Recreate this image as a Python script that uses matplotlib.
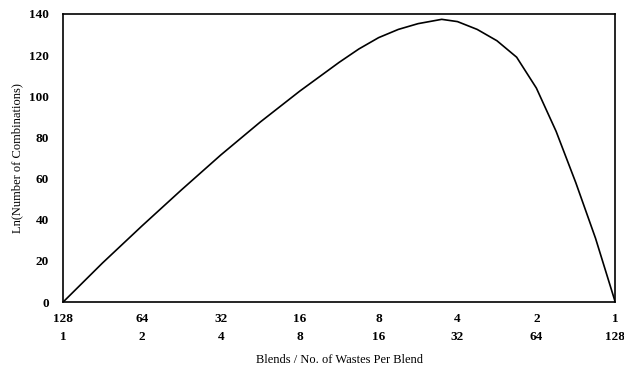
import matplotlib
matplotlib.use("Agg")
import matplotlib.pyplot as plt

# positions along the x axis (tick index)
pos = [0, 0.5, 1, 1.5, 2, 2.5, 3, 3.5, 3.75, 4, 4.25, 4.5, 4.8, 5, 5.25, 5.5, 5.75, 6, 6.25, 6.5, 6.75, 7]
ln_comb = [0, 19, 37, 54.5, 71.5, 87.5, 102.5, 116.5, 123, 128.5, 132.5, 135.3, 137.4, 136.3, 132.5, 127, 119, 104, 83, 58, 31, 0]

blends = [128, 64, 32, 16, 8, 4, 2, 1]
wastes_per_blend = [1, 2, 4, 8, 16, 32, 64, 128]

plt.rcParams['font.family'] = ['Liberation Serif', 'DejaVu Serif']

fig = plt.figure(figsize=(6.24, 3.68), dpi=100)
ax = fig.add_axes([0.101, 0.179, 0.885, 0.783])
ax.plot(pos, ln_comb, color='black', lw=1.2)

ax.set_xlim(0, 7)
ax.set_ylim(0, 140)
ax.set_yticks(range(0, 141, 20))
ax.set_xticks(range(len(blends)))
ax.set_xticklabels([f"{b}\n{w}" for b, w in zip(blends, wastes_per_blend)],
                   fontsize=9.5, fontweight='bold', linespacing=1.6)
for lab in ax.get_yticklabels():
    lab.set_fontsize(9.5)
    lab.set_fontweight('bold')
ax.tick_params(length=0, pad=8)
ax.tick_params(axis='y', pad=10)
for s in ax.spines.values():
    s.set_linewidth(1.2)

ax.set_ylabel('Ln(Number of Combinations)', fontsize=9)
ax.set_xlabel('Blends / No. of Wastes Per Blend', fontsize=9, labelpad=8)

fig.savefig('out.png', dpi=100)
